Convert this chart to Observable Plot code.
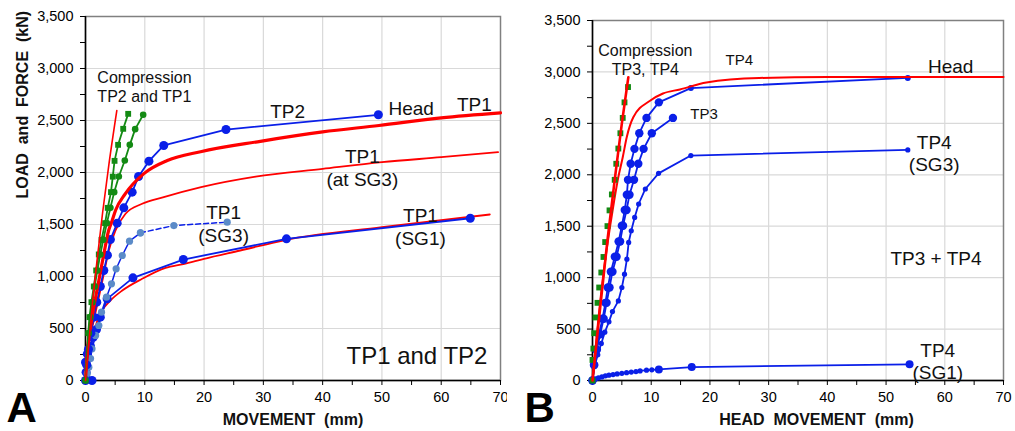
<!DOCTYPE html>
<html><head><meta charset="utf-8">
<script src="https://cdn.jsdelivr.net/npm/d3@7"></script>
<script src="https://cdn.jsdelivr.net/npm/@observablehq/plot@0.6"></script>
<style>
body{margin:0;background:#fff;font-family:Arial,"Liberation Sans",sans-serif;}
#wrap{display:flex;width:1015px;height:431px;overflow:hidden;}
svg text{white-space:pre;}
</style></head><body><div id="wrap"></div>
<script>
// ---------- Panel A data (movement mm, load kN) ----------
const compLX = [0,0.5,1.2,2.0,2.9,4.0,5.28];
const compLY = [0,330,760,1180,1620,2100,2596];
const tp2CompX = [0,0.46,0.67,1.0,1.4,1.8,2.24,2.7,3.3,3.75,4.3,4.6,4.9,5.5,6.36,7.2];
const tp2CompY = [0,455,609,753,904,1058,1212,1353,1513,1660,1811,1960,2112,2266,2420,2564];
const tp1CompX = [0,0.55,0.8,1.15,1.55,2.0,2.5,3.0,3.6,4.2,4.84,5.62,6.63,7.47,8.38,9.73];
const tp1CompY = [0,455,609,753,904,1058,1212,1353,1513,1660,1811,1962,2115,2266,2417,2555];
const tp2HeadX = [0,0.2,0.5,0.9,1.4,1.9,2.5,3.09,3.7,4.2,5.34,6.46,7.87,8.95,10.7,13.2,23.7,49.4];
const tp2HeadY = [0,150,300,455,609,753,904,1058,1205,1356,1513,1660,1811,1962,2109,2260,2413,2555];
const tp1Sg1X = [1.1,0.1,0.0,0.3,0.84,1.3,1.85,2.5,3.65,8.0,16.5,33.9,64.9];
const tp1Sg1Y = [0,80,176,256,330,416,490,609,785,987,1163,1362,1560];
const tp1Sg3X = [0,0.3,0.56,0.85,1.1,1.7,2.25,2.7,3.54,4.38,5.17,6.2,7.42,9.27];
const tp1Sg3Y = [0,67,128,211,305,433,529,657,801,930,1074,1202,1340,1420];
const tp1Sg3DashX = [9.27,14.9,23.9];
const tp1Sg3DashY = [1420,1490,1522];
const tp1HeadFitX = [0,0.28,0.84,1.4,2.25,3.1,3.9,4.5,5.06,6.7,9.8,13.8,19.4,29.5,40,49.5,60,70];
const tp1HeadFitY = [0,256,513,705,962,1218,1442,1538,1635,1795,1987,2115,2200,2300,2390,2452,2526,2574];
const tp1Sg3FitX = [0,0.28,0.67,1.4,2.25,3.1,3.93,5.06,6.75,9.56,13.2,19.5,28.7,40,50,60,69.6];
const tp1Sg3FitY = [0,192,385,577,801,1026,1250,1442,1603,1699,1763,1859,1960,2035,2099,2147,2195];
const tp1Sg1FitX = [0,0.45,0.84,1.4,2.0,2.8,4.2,6.2,9.56,13.5,16.5,20,26.1,33.9,50,68.2];
const tp1Sg1FitY = [0,160,320,449,577,673,769,865,978,1083,1120,1170,1250,1353,1474,1596];
const labelsA = [
  {x:2.0, y:2830, t:"Compression\nTP2 and TP1", fs:16, a:"start"},
  {x:34.1, y:2599, t:"TP2", fs:19, a:"middle"},
  {x:51.1, y:2623, t:"Head", fs:19, a:"start"},
  {x:65.6, y:2662, t:"TP1", fs:19, a:"middle"},
  {x:46.7, y:2049, t:"TP1\n(at SG3)", fs:19, a:"middle"},
  {x:23.3, y:1511, t:"TP1\n(SG3)", fs:19, a:"middle"},
  {x:56.5, y:1480, t:"TP1\n(SG1)", fs:19, a:"middle"},
  {x:67.8, y:251, t:"TP1 and TP2", fs:24, a:"end"}
];

// ---------- Panel B data ----------
const compRX = [0,1.31,2.6,3.98,5.0,6.1];
const compRY = [0,709,1390,2040,2500,2947];
const compSqRX = [0,0.0,0.15,0.3,0.5,0.85,1.14,1.5,1.87,2.16,2.55,2.9,3.3,3.78,4.05,4.4,4.75,5.15,5.45,6.05];
const compSqRY = [0,200,310,460,613,755,904,1050,1201,1346,1501,1654,1809,1951,2107,2255,2404,2553,2704,2853];
const tp4FitX = [0,1.0,2.0,3.0,3.7,4.4,5.15,5.83,6.95,9.8,12,14.9,19.4,28.4,40,70];
const tp4FitY = [0,600,1100,1500,1751,1977,2171,2365,2559,2720,2790,2830,2898,2941,2950,2950];
const tp4HeadX = [0,0.25,0.6,1.1,1.7,2.2,2.6,3.13,3.8,4.45,5.0,5.5,5.85,6.05,6.5,7.15,7.97,9.2,11.3];
const tp4HeadY = [0,150,300,450,600,755,904,1058,1203,1352,1504,1657,1806,1951,2107,2252,2404,2553,2704];
const tp4HeadEndX = [11.3,16.75,53.7];
const tp4HeadEndY = [2704,2843,2942];
const tp3HeadX = [0,0.3,0.75,1.3,1.9,2.4,2.9,3.4,4.1,4.7,5.2,5.8,6.3,7.07,7.8,8.7,10.1,13.7];
const tp3HeadY = [0,150,300,450,600,755,904,1058,1203,1352,1504,1657,1806,1951,2107,2252,2404,2553];
const tp4Sg3X = [0,0.4,0.9,1.5,2.1,2.8,3.4,4.4,5.0,5.45,5.86,6.16,6.6,7.18,7.86,9.0,11.25,16.75,53.7];
const tp4Sg3Y = [0,150,250,360,470,570,670,774,904,1034,1180,1342,1456,1585,1716,1862,2014,2187,2242];
const tp4Sg1X = [0,0.5,1.0,1.6,2.2,2.8,3.5,4.2,5.0,5.8,6.6,7.4,8.1,9.2,10.1,11.3,16.9,54.0];
const tp4Sg1Y = [0,15,25,35,45,52,58,64,70,76,82,87,93,100,104,108,131,157];
const tp4Sg1BigX = [11.3,16.9,54.0];
const tp4Sg1BigY = [108,131,157];
const labelsB = [
  {x:9.0, y:3119, t:"Compression\nTP3, TP4", fs:16, a:"middle"},
  {x:25.0, y:3121, t:"TP4", fs:15, a:"middle"},
  {x:19.0, y:2595, t:"TP3", fs:15, a:"middle"},
  {x:61.0, y:3062, t:"Head", fs:19, a:"middle"},
  {x:58.2, y:2215, t:"TP4\n(SG3)", fs:19, a:"middle"},
  {x:58.5, y:1196, t:"TP3 + TP4", fs:19, a:"middle"},
  {x:58.8, y:193, t:"TP4\n(SG1)", fs:19, a:"middle"}
];

const yTicks = d3.range(0, 3501, 500);
const yMinor = d3.range(250, 3500, 500);
const xTicks = d3.range(0, 71, 10);
const xMinor = d3.range(5, 70, 10);

const rows = (xs, ys) => xs.map((x, i) => ({x, y: ys[i]}));

const RED = "#ff0000", BLUE = "#0a1fe8", GREEN = "#138a13", STEEL = "#5b8bc8";
const FONT = "Arial, 'Liberation Sans', sans-serif";

function frameMarks() {
  return [
    Plot.gridX(d3.range(10, 70, 10), {stroke: "#d9d9d9", strokeOpacity: 1, strokeWidth: 1.2}),
    Plot.gridY(d3.range(500, 3500, 500), {stroke: "#d9d9d9", strokeOpacity: 1, strokeWidth: 1.2}),
    Plot.frame({stroke: "#808080", strokeWidth: 1.5}),
    Plot.axisY(yTicks, {tickSize: 5, tickPadding: 7, tickFormat: d3.format(","), label: null, fontSize: 14.5, stroke: "#000"}),
    Plot.axisY(yMinor, {tickSize: 5, tickFormat: () => "", label: null, stroke: "#000"}),
    Plot.axisX(xTicks, {tickSize: 5, tickPadding: 6, label: null, fontSize: 14.5, stroke: "#000"}),
    Plot.axisX(xMinor, {tickSize: 5, tickFormat: () => "", label: null, stroke: "#000"}),
    Plot.ruleX([0], {stroke: "#000", strokeWidth: 1.5}),
    Plot.ruleY([0], {stroke: "#000", strokeWidth: 1.5})
  ];
}

function labelMarks(labels) {
  return ["start", "middle", "end"].map(a =>
    Plot.text(labels.filter(d => d.a === a), {
      x: "x", y: "y", text: "t", fontSize: d => d.fs, textAnchor: a,
      lineAnchor: "middle", lineHeight: 1.2, fill: "#111"
    })
  );
}

const smooth = "monotone-x";

const chartA = Plot.plot({
  width: 507, height: 431,
  marginLeft: 85, marginRight: 7, marginTop: 16, marginBottom: 51,
  style: {fontFamily: FONT, fontSize: "14.5px", color: "#000", background: "#fff", overflow: "visible"},
  x: {domain: [0, 70]}, y: {domain: [0, 3500]},
  marks: [
    ...frameMarks(),
    Plot.line(rows(tp1Sg1FitX, tp1Sg1FitY), {x: "x", y: "y", stroke: RED, strokeWidth: 1.8, curve: smooth}),
    Plot.line(rows(tp1Sg1X, tp1Sg1Y), {x: "x", y: "y", stroke: BLUE, strokeWidth: 1.8}),
    Plot.dot(rows(tp1Sg1X, tp1Sg1Y), {x: "x", y: "y", r: 4.5, fill: BLUE}),
    Plot.line(rows(tp1Sg3X, tp1Sg3Y), {x: "x", y: "y", stroke: BLUE, strokeWidth: 1.5}),
    Plot.line(rows(tp1Sg3DashX, tp1Sg3DashY), {x: "x", y: "y", stroke: BLUE, strokeWidth: 1.5, strokeDasharray: "5,3"}),
    Plot.dot(rows(tp1Sg3X, tp1Sg3Y), {x: "x", y: "y", r: 3.6, fill: STEEL}),
    Plot.dot(rows(tp1Sg3DashX, tp1Sg3DashY), {x: "x", y: "y", r: 3.6, fill: STEEL}),
    Plot.line(rows(tp1Sg3FitX, tp1Sg3FitY), {x: "x", y: "y", stroke: RED, strokeWidth: 1.8, curve: smooth}),
    Plot.line(rows(tp2HeadX, tp2HeadY), {x: "x", y: "y", stroke: BLUE, strokeWidth: 1.8}),
    Plot.dot(rows(tp2HeadX, tp2HeadY), {x: "x", y: "y", r: 4.5, fill: BLUE}),
    Plot.line(rows(tp1HeadFitX, tp1HeadFitY), {x: "x", y: "y", stroke: RED, strokeWidth: 3.2, curve: smooth}),
    Plot.line(rows(tp1CompX, tp1CompY), {x: "x", y: "y", stroke: GREEN, strokeWidth: 1.8}),
    Plot.dot(rows(tp1CompX, tp1CompY), {x: "x", y: "y", r: 3.3, fill: GREEN}),
    Plot.line(rows(tp2CompX, tp2CompY), {x: "x", y: "y", stroke: GREEN, strokeWidth: 1.8}),
    Plot.dot(rows(tp2CompX, tp2CompY), {x: "x", y: "y", r: 3.3, symbol: "square", fill: GREEN}),
    Plot.line(rows(compLX, compLY), {x: "x", y: "y", stroke: RED, strokeWidth: 1.6, curve: smooth}),
    ...labelMarks(labelsA),
    Plot.text(["LOAD  and  FORCE  (kN)"], {frameAnchor: "left", dx: -63, rotate: -90, fontSize: 16, fontWeight: "bold", fill: "#111"}),
    Plot.text(["MOVEMENT  (mm)"], {frameAnchor: "bottom", dy: 44.5, lineAnchor: "bottom", fontSize: 16, fontWeight: "bold", fill: "#111"}),
    Plot.text(["A"], {frameAnchor: "bottom-left", dx: -79, dy: 41, lineAnchor: "bottom", textAnchor: "start", fontSize: 42, fontWeight: "bold", fill: "#000"})
  ]
});

const chartB = Plot.plot({
  width: 508, height: 431,
  marginLeft: 85, marginRight: 12, marginTop: 20, marginBottom: 51,
  style: {fontFamily: FONT, fontSize: "14.5px", color: "#000", background: "#fff", overflow: "visible"},
  x: {domain: [0, 70]}, y: {domain: [0, 3500]},
  marks: [
    ...frameMarks(),
    Plot.line(rows(tp4Sg1X, tp4Sg1Y), {x: "x", y: "y", stroke: BLUE, strokeWidth: 1.8}),
    Plot.dot(rows(tp4Sg1X, tp4Sg1Y), {x: "x", y: "y", r: 2.6, fill: BLUE}),
    Plot.dot(rows(tp4Sg1BigX, tp4Sg1BigY), {x: "x", y: "y", r: 4, fill: BLUE}),
    Plot.line(rows(tp4Sg3X, tp4Sg3Y), {x: "x", y: "y", stroke: BLUE, strokeWidth: 1.8}),
    Plot.dot(rows(tp4Sg3X, tp4Sg3Y), {x: "x", y: "y", r: 2.6, fill: BLUE}),
    Plot.line(rows(tp3HeadX, tp3HeadY), {x: "x", y: "y", stroke: BLUE, strokeWidth: 1.8}),
    Plot.dot(rows(tp3HeadX, tp3HeadY), {x: "x", y: "y", r: 4.2, fill: BLUE}),
    Plot.line(rows(tp4HeadX, tp4HeadY), {x: "x", y: "y", stroke: BLUE, strokeWidth: 1.8}),
    Plot.dot(rows(tp4HeadX, tp4HeadY), {x: "x", y: "y", r: 4.2, fill: BLUE}),
    Plot.line(rows(tp4HeadEndX, tp4HeadEndY), {x: "x", y: "y", stroke: BLUE, strokeWidth: 1.8}),
    Plot.dot(rows(tp4HeadEndX.slice(1), tp4HeadEndY.slice(1)), {x: "x", y: "y", r: 3, fill: BLUE}),
    Plot.line(rows(tp4FitX, tp4FitY), {x: "x", y: "y", stroke: RED, strokeWidth: 2, curve: smooth}),
    Plot.dot(rows(compSqRX, compSqRY), {x: "x", y: "y", r: 3.3, symbol: "square", fill: GREEN}),
    Plot.line(rows(compRX, compRY), {x: "x", y: "y", stroke: RED, strokeWidth: 2.6, curve: smooth}),
    ...labelMarks(labelsB),
    Plot.text(["HEAD  MOVEMENT  (mm)"], {frameAnchor: "bottom", dx: 18.5, dy: 44.5, lineAnchor: "bottom", fontSize: 16, fontWeight: "bold", fill: "#111"}),
    Plot.text(["B"], {frameAnchor: "bottom-left", dx: -68, dy: 41, lineAnchor: "bottom", textAnchor: "start", fontSize: 42, fontWeight: "bold", fill: "#000"})
  ]
});

document.getElementById("wrap").append(chartA, chartB);
</script>
</body></html>
